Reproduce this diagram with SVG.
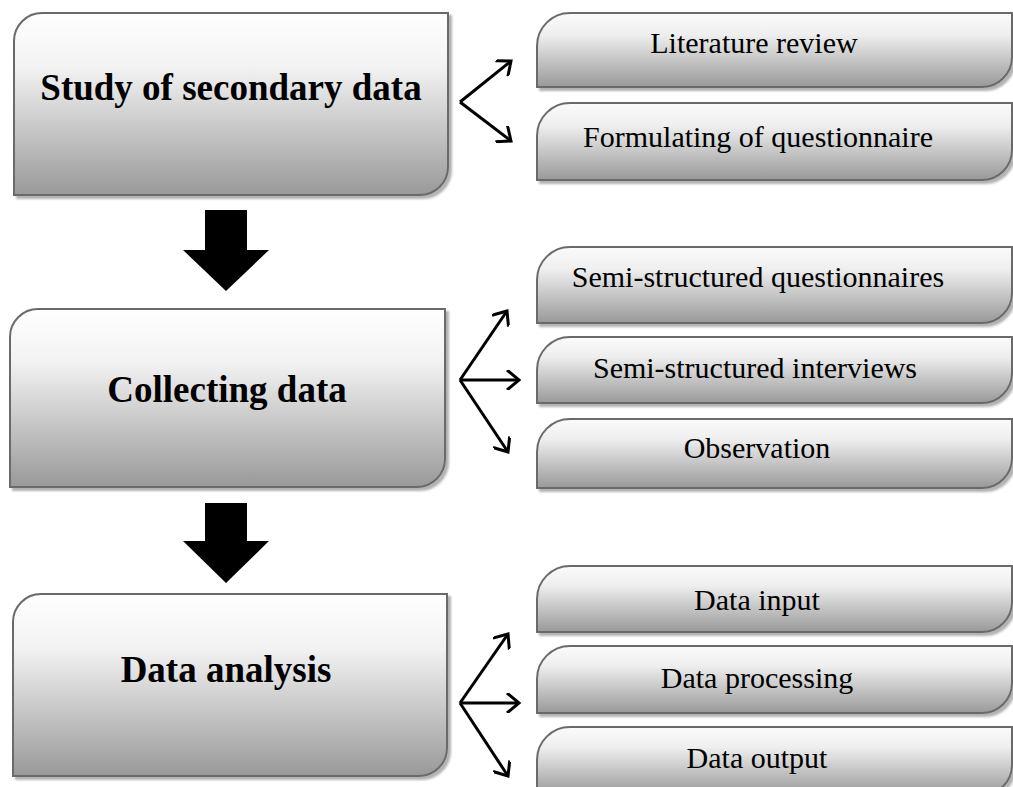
<svg xmlns="http://www.w3.org/2000/svg" width="1013" height="787" viewBox="0 0 1013 787">
<style>
.box{stroke:#6b6b6b;stroke-width:2;filter:url(#sh)}
.big{fill:url(#gBig)}
.small{fill:url(#gSmall)}
.t1{font-family:"Liberation Serif","Times New Roman",serif;font-weight:bold;font-size:37px;text-anchor:middle;fill:#000}
.t2{font-family:"Liberation Serif","Times New Roman",serif;font-size:30px;text-anchor:middle;fill:#000}
.arr{stroke:#000;stroke-width:3;fill:none;marker-end:url(#head)}
.blk{fill:#000}
</style>
<defs>
<linearGradient id="gBig" x1="0" y1="0" x2="0" y2="1">
<stop offset="0" stop-color="#ffffff"/>
<stop offset="0.3" stop-color="#f2f2f2"/>
<stop offset="1" stop-color="#999999"/>
</linearGradient>
<linearGradient id="gSmall" x1="0" y1="0" x2="0" y2="1">
<stop offset="0" stop-color="#fbfbfb"/>
<stop offset="0.3" stop-color="#eeeeee"/>
<stop offset="1" stop-color="#999999"/>
</linearGradient>
<filter id="sh" x="-5%" y="-5%" width="115%" height="120%">
<feDropShadow dx="3" dy="3" stdDeviation="1.2" flood-color="#000" flood-opacity="0.3"/>
</filter>
<marker id="head" markerUnits="userSpaceOnUse" viewBox="0 0 20 20" refX="17" refY="10" markerWidth="20" markerHeight="20" orient="auto">
<path d="M5,0 L17,10 L5,20" fill="none" stroke="#000" stroke-width="3"/>
</marker>
</defs>

<g id="study">
<path class="box big" d="M14,41 A28,28 0 0 1 42,13 H448 V167 A28,28 0 0 1 420,195 H14 Z"/>
<text class="t1" x="231" y="100">Study of secondary data</text>
</g>
<g id="collecting">
<path class="box big" d="M10,337 A28,28 0 0 1 38,309 H445 V459 A28,28 0 0 1 417,487 H10 Z"/>
<text class="t1" x="227" y="402">Collecting data</text>
</g>
<g id="analysis">
<path class="box big" d="M13,622 A28,28 0 0 1 41,594 H447 V748 A28,28 0 0 1 419,776 H13 Z"/>
<text class="t1" x="226" y="682">Data analysis</text>
</g>

<g id="literature">
<path class="box small" d="M537,46 A33,33 0 0 1 570,13 H1012 V57 A30,30 0 0 1 982,87 H537 Z"/>
<text class="t2" x="754" y="53">Literature review</text>
</g>
<g id="formulating">
<path class="box small" d="M537,136 A33,33 0 0 1 570,103 H1012 V150 A30,30 0 0 1 982,180 H537 Z"/>
<text class="t2" x="758" y="147">Formulating of questionnaire</text>
</g>

<g id="semiq">
<path class="box small" d="M537,280 A33,33 0 0 1 570,247 H1012 V293 A30,30 0 0 1 982,323 H537 Z"/>
<text class="t2" x="758" y="287">Semi-structured questionnaires</text>
</g>
<g id="semii">
<path class="box small" d="M537,370 A33,33 0 0 1 570,337 H1012 V373 A30,30 0 0 1 982,403 H537 Z"/>
<text class="t2" x="755" y="378">Semi-structured interviews</text>
</g>
<g id="observation">
<path class="box small" d="M537,452 A33,33 0 0 1 570,419 H1012 V458 A30,30 0 0 1 982,488 H537 Z"/>
<text class="t2" x="757" y="458">Observation</text>
</g>

<g id="input">
<path class="box small" d="M537,599 A33,33 0 0 1 570,566 H1012 V602 A30,30 0 0 1 982,632 H537 Z"/>
<text class="t2" x="757" y="610">Data input</text>
</g>
<g id="processing">
<path class="box small" d="M537,679 A33,33 0 0 1 570,646 H1012 V683 A30,30 0 0 1 982,713 H537 Z"/>
<text class="t2" x="757" y="688">Data processing</text>
</g>
<g id="output">
<path class="box small" d="M537,760 A33,33 0 0 1 570,727 H1012 V765 A30,30 0 0 1 982,795 H537 Z"/>
<text class="t2" x="757" y="768">Data output</text>
</g>

<g id="connectors">
<polygon class="blk" points="205,210 247,210 247,250 269,250 226,291 183,250 205,250"/>
<polygon class="blk" points="205,503 247,503 247,541 269,541 226,583 183,541 205,541"/>
<line class="arr" x1="460" y1="102" x2="511" y2="61"/>
<line class="arr" x1="460" y1="102" x2="511" y2="141"/>
<line class="arr" x1="460" y1="380" x2="507" y2="311"/>
<line class="arr" x1="460" y1="380" x2="519" y2="380"/>
<line class="arr" x1="460" y1="380" x2="508" y2="452"/>
<line class="arr" x1="460" y1="703" x2="508" y2="634"/>
<line class="arr" x1="460" y1="703" x2="519" y2="703"/>
<line class="arr" x1="460" y1="703" x2="508" y2="776"/>
</g>
</svg>
